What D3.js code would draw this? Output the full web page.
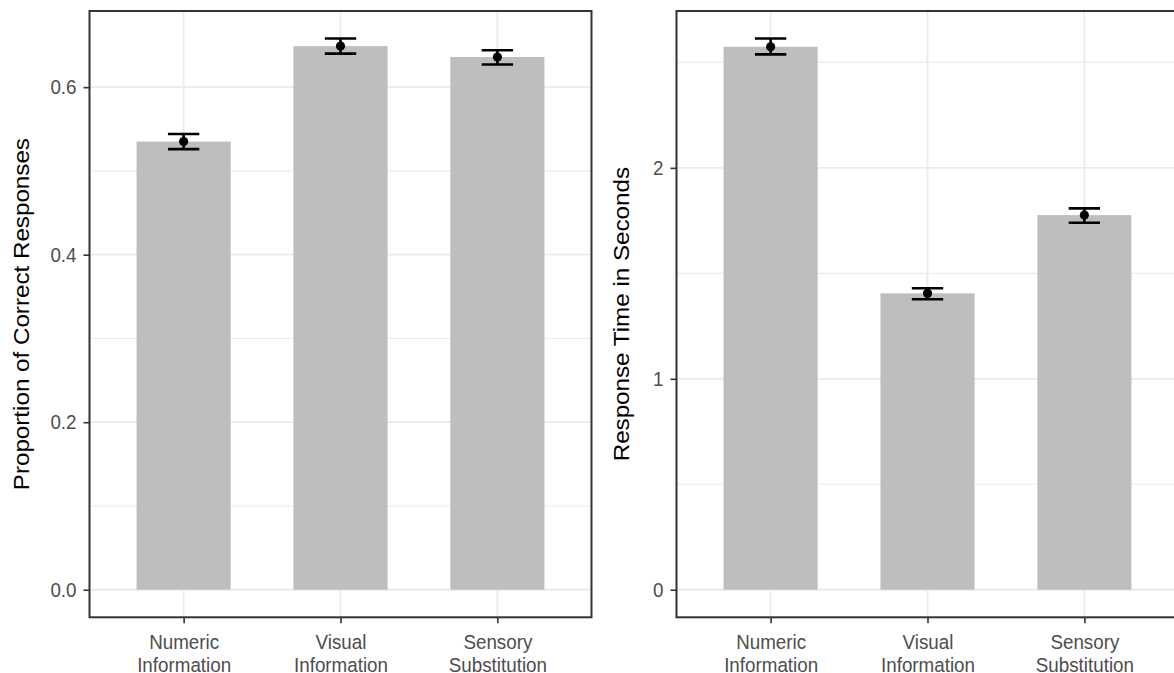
<!DOCTYPE html>
<html>
<head>
<meta charset="utf-8">
<script src="https://cdn.jsdelivr.net/npm/d3@7"></script>
<style>
  body { margin: 0; background: #fff; }
  svg { display: block; font-family: "Liberation Sans", Arial, sans-serif; }
</style>
</head>
<body>
<svg width="1174" height="673"></svg>
<script>
// Data
var categories = ["Numeric\nInformation", "Visual\nInformation", "Sensory\nSubstitution"];

var accuracyMean = [0.535, 0.649, 0.636];
var accuracyLow = [0.526, 0.640, 0.627];
var accuracyHigh = [0.544, 0.658, 0.644];
var accuracyTicks = [0, 0.2, 0.4, 0.6];
var accuracyMinor = [0.1, 0.3, 0.5];

var rtMean = [2.574, 1.405, 1.776];
var rtLow = [2.538, 1.377, 1.740];
var rtHigh = [2.613, 1.429, 1.808];
var rtTicks = [0, 1, 2];
var rtMinor = [0.5, 1.5, 2.5];

var svg = d3.select("svg");
var panelTop = 11, panelBottom = 617.3;

function drawPanel(p) {
  var g = svg.append("g");

  // ggplot style expansion: 5% of the data range on the y axis
  var maxY = d3.max(p.high);
  var y = d3.scaleLinear()
    .domain([-0.05 * maxY, maxY * 1.05])
    .range([panelBottom, panelTop]);

  var x = d3.scalePoint()
    .domain(categories)
    .range([p.left, p.right])
    .padding(0.6);
  var step = x.step();

  var rows = categories.map((c, i) => ({
    cat: c, mean: p.mean[i], low: p.low[i], high: p.high[i]
  }));

  // grid lines
  g.selectAll(".minor")
    .data(p.minor)
    .enter()
    .append("line")
    .attr("x1", p.left).attr("x2", p.right)
    .attr("y1", (d) => y(d)).attr("y2", (d) => y(d))
    .attr("stroke", "#ebebeb").attr("stroke-width", 1.1);

  g.selectAll(".major")
    .data(p.ticks)
    .enter()
    .append("line")
    .attr("x1", p.left).attr("x2", p.right)
    .attr("y1", (d) => y(d)).attr("y2", (d) => y(d))
    .attr("stroke", "#ebebeb").attr("stroke-width", 1.8);

  g.selectAll(".vgrid")
    .data(categories)
    .enter()
    .append("line")
    .attr("x1", (d) => x(d)).attr("x2", (d) => x(d))
    .attr("y1", panelTop).attr("y2", panelBottom)
    .attr("stroke", "#ebebeb").attr("stroke-width", 1.8);

  // bars
  g.selectAll(".bar")
    .data(rows)
    .enter()
    .append("rect")
    .attr("x", (d) => x(d.cat) - step * 0.3)
    .attr("width", step * 0.6)
    .attr("y", (d) => y(d.mean))
    .attr("height", (d) => y(0) - y(d.mean))
    .attr("fill", "#bebebe");

  // error bars
  var eb = g.selectAll(".err")
    .data(rows)
    .enter()
    .append("g")
    .attr("stroke", "#000")
    .attr("stroke-width", 2.6);
  eb.append("line")
    .attr("x1", (d) => x(d.cat)).attr("x2", (d) => x(d.cat))
    .attr("y1", (d) => y(d.low)).attr("y2", (d) => y(d.high));
  eb.append("line")
    .attr("x1", (d) => x(d.cat) - step * 0.1).attr("x2", (d) => x(d.cat) + step * 0.1)
    .attr("y1", (d) => y(d.low)).attr("y2", (d) => y(d.low));
  eb.append("line")
    .attr("x1", (d) => x(d.cat) - step * 0.1).attr("x2", (d) => x(d.cat) + step * 0.1)
    .attr("y1", (d) => y(d.high)).attr("y2", (d) => y(d.high));

  g.selectAll(".pt")
    .data(rows)
    .enter()
    .append("circle")
    .attr("cx", (d) => x(d.cat))
    .attr("cy", (d) => y(d.mean))
    .attr("r", 4.6)
    .attr("fill", "#000");

  // panel border
  g.append("rect")
    .attr("x", p.left).attr("y", panelTop)
    .attr("width", p.right - p.left).attr("height", panelBottom - panelTop)
    .attr("fill", "none")
    .attr("stroke", "#333").attr("stroke-width", 2);

  // y axis
  var yAxis = g.append("g")
    .attr("transform", `translate(${p.left},0)`)
    .call(d3.axisLeft(y).tickValues(p.ticks).tickFormat(d3.format(p.fmt)).tickSize(6).tickPadding(7));
  yAxis.select(".domain").remove();
  yAxis.selectAll(".tick line").attr("stroke", "#333").attr("stroke-width", 1.6);
  yAxis.selectAll(".tick text")
    .attr("fill", "#4d4d4d")
    .attr("font-size", "18.8px")
    .attr("transform", "scale(1,1.08)");
  yAxis.attr("font-family", null).attr("font-size", null);

  // x axis
  var xAxis = g.append("g")
    .attr("transform", `translate(0,${panelBottom})`)
    .call(d3.axisBottom(x).tickSize(6));
  xAxis.select(".domain").remove();
  xAxis.attr("font-family", null).attr("font-size", null);
  xAxis.selectAll(".tick line").attr("stroke", "#333").attr("stroke-width", 1.6);
  xAxis.selectAll(".tick text").remove();
  var lbl = xAxis.selectAll(".tick")
    .append("text")
    .attr("fill", "#4d4d4d")
    .attr("font-size", "18.8px")
    .attr("text-anchor", "middle")
    .attr("transform", "translate(0,32) scale(1,1.08)");
  lbl.selectAll("tspan")
    .data((d) => d.split("\n"))
    .enter()
    .append("tspan")
    .attr("x", 0)
    .attr("y", (d, i) => i * 20.7)
    .text((d) => d);

  // y title
  svg.append("text")
    .attr("transform", `translate(${p.left - p.titleOffset},${(panelTop + panelBottom) / 2}) rotate(-90) scale(1.1,1)`)
    .attr("text-anchor", "middle")
    .attr("font-size", "22px")
    .attr("fill", "#000")
    .text(p.title);
}

drawPanel({
  left: 89.5, right: 591.5,
  mean: accuracyMean, low: accuracyLow, high: accuracyHigh,
  ticks: accuracyTicks, minor: accuracyMinor, fmt: ".1f",
  title: "Proportion of Correct Responses", titleOffset: 61
});

drawPanel({
  left: 676.5, right: 1178.5,
  mean: rtMean, low: rtLow, high: rtHigh,
  ticks: rtTicks, minor: rtMinor, fmt: "d",
  title: "Response Time in Seconds", titleOffset: 48
});
</script>
</body>
</html>
